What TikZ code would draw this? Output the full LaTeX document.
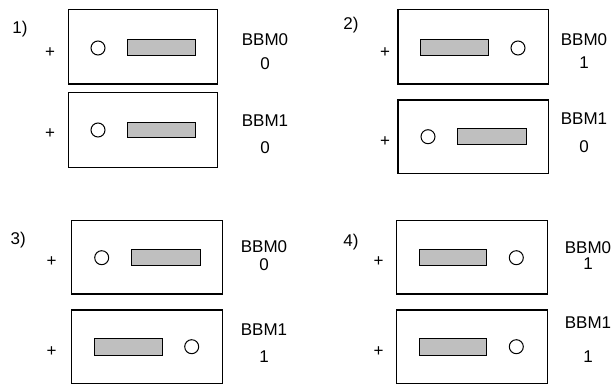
\documentclass[tikz,border=0pt]{standalone}
\usepackage{fontspec}
\setmainfont{Liberation Sans}
\begin{document}
\begin{tikzpicture}[x=1pt,y=-1pt,
  lbl/.style={font=\fontsize{17}{20}\selectfont, anchor=base, inner sep=0pt},
  card/.style={draw=black, line width=1.1pt},
  slot/.style={draw=black, fill=black!25, line width=1pt},
  hole/.style={draw=black, fill=white, line width=1pt}]
\useasboundingbox (0,0) rectangle (616,385);
% ---------- panel 1 ----------
\node[lbl] (n1) at (20,33.6) {1)};
\draw[card] (68.7,9.3) rectangle (217.7,84);
\node[lbl] (p1a) at (50,57.6) {+};
\draw[hole] (98,48) circle (7);
\draw[slot] (127.7,39.3) rectangle (195.3,55.7);
\draw[card] (68.7,92.3) rectangle (217.7,167.3);
\node[lbl] (p1b) at (50,138.8) {+};
\draw[hole] (98,130) circle (7);
\draw[slot] (127.7,123) rectangle (195.3,137.7);
\node[lbl] (b10) at (265,45.1) {BBM0};
\node[lbl] (v10) at (265,69.1) {0};
\node[lbl] (b11) at (265,126.1) {BBM1};
\node[lbl] (v11) at (265,153.1) {0};
% ---------- panel 2 ----------
\node[lbl] (n2) at (351,29.1) {2)};
\draw[card] (398,9.3) rectangle (548.7,84);
\node[lbl] (p2a) at (385,57.8) {+};
\draw[slot] (420.3,39.3) rectangle (488.3,55.7);
\draw[hole] (518,48) circle (7);
\draw[card] (398,100) rectangle (548.7,173.3);
\node[lbl] (p2b) at (385,146.1) {+};
\draw[hole] (428,136.7) circle (7);
\draw[slot] (457,129) rectangle (526.3,145);
\node[lbl] (b20) at (584,45.1) {BBM0};
\node[lbl] (v20) at (584,68.1) {1};
\node[lbl] (b21) at (584,124.1) {BBM1};
\node[lbl] (v21) at (584,152.1) {0};
% ---------- panel 3 ----------
\node[lbl] (n3) at (18.3,244.1) {3)};
\draw[card] (71.7,220.7) rectangle (222.3,294);
\node[lbl] (p3a) at (51.7,266.1) {+};
\draw[hole] (101.7,257.7) circle (7);
\draw[slot] (131,249.3) rectangle (200,265.7);
\draw[card] (71.7,310) rectangle (222.3,383.5);
\node[lbl] (p3b) at (51.7,356.1) {+};
\draw[slot] (94,338.3) rectangle (162,355);
\draw[hole] (191.7,346.7) circle (7);
\node[lbl] (b30) at (264,252.1) {BBM0};
\node[lbl] (v30) at (264,270.1) {0};
\node[lbl] (b31) at (264,335.1) {BBM1};
\node[lbl] (v31) at (264,362.1) {1};
% ---------- panel 4 ----------
\node[lbl] (n4) at (351,246.1) {4)};
\draw[card] (396.3,220.7) rectangle (547.3,294);
\node[lbl] (p4a) at (378.7,266.1) {+};
\draw[slot] (419,249.3) rectangle (486.3,265.7);
\draw[hole] (516.3,257.7) circle (7);
\draw[card] (396.3,310) rectangle (547.3,383.5);
\node[lbl] (p4b) at (378.7,356.1) {+};
\draw[slot] (419,338.3) rectangle (486.3,355);
\draw[hole] (516.3,346.7) circle (7);
\node[lbl] (b40) at (588,253.1) {BBM0};
\node[lbl] (v40) at (588,269.1) {1};
\node[lbl] (b41) at (588,328.1) {BBM1};
\node[lbl] (v41) at (588,362.1) {1};
\end{tikzpicture}
\end{document}
